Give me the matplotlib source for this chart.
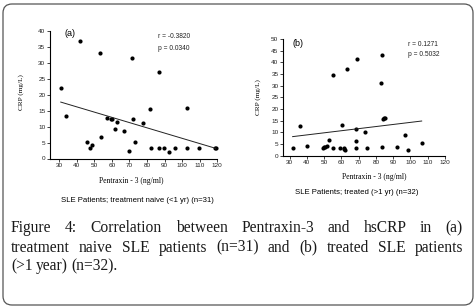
import matplotlib.pyplot as plt
from matplotlib.patches import FancyBboxPatch

W, H = 476, 308

# panel (a): treatment naive SLE patients (n=31)
ptx_a = [31, 34, 42, 46, 47.5, 49, 53.3, 54, 57.3, 59.5, 60.3, 62, 62.7, 66.7,
         70, 71.5, 72, 73, 78, 82, 82.3, 87, 87, 89.5, 92.5, 96, 102.7, 103,
         109.5, 118.5, 119]
crp_a = [22.1, 13.3, 37.0, 5.2, 3.2, 4.1, 33.1, 6.6, 12.8, 12.3, 12.3, 9.1, 11.3, 8.6,
         2.2, 31.4, 12.3, 5.1, 11.2, 15.6, 3.3, 27.1, 3.3, 3.3, 2.1, 3.3, 15.7, 3.3,
         3.3, 3.4, 3.3]
fit_a_x = [31, 119]
fit_a_y = [17.7, 3.2]

# panel (b): treated SLE patients (n=32)
ptx_b = [31.8, 35.9, 40.3, 49.2, 50.1, 50.5, 51.5, 53.0, 55.1, 55.3, 59.2, 60.5,
         61.5, 61.8, 62.3, 63.2, 68.3, 68.3, 68.6, 68.8, 73.8, 75, 82.7, 83.5,
         83.7, 84.2, 84.6, 85.2, 92.4, 96.6, 98.8, 106.8]
crp_b = [3.4, 12.7, 4.1, 3.4, 3.8, 3.6, 4.1, 6.7, 34.7, 3.4, 3.4, 13.2,
         3.2, 2.8, 2.4, 37.0, 11.2, 6.4, 3.4, 41.3, 10.3, 3.4, 31.2, 43.3,
         3.5, 15.8, 15.9, 15.9, 3.5, 8.7, 2.4, 5.2]
fit_b_x = [31.8, 106.5]
fit_b_y = [8.1, 14.8]

xticks = list(range(30, 121, 10))
yticks_a = list(range(0, 41, 5))
yticks_b = list(range(0, 51, 5))

SANS = ["Liberation Sans", "DejaVu Sans"]
SERIF = ["Liberation Serif", "DejaVu Serif"]

fig = plt.figure(figsize=(W / 100, H / 100), dpi=100)


def box(x0, y0, x1, y1):
    # pixel box (top-left origin) -> figure fraction rect
    return [x0 / W, 1 - y1 / H, (x1 - x0) / W, (y1 - y0) / H]


def panel(rect, x, y, fx, fy, xlim, ylim, yticks):
    ax = fig.add_axes(rect)
    ax.plot(x, y, "o", color="black", ms=3.0, mew=0, clip_on=False)
    ax.plot(fx, fy, color="#222222", lw=0.7)
    ax.set_xlim(*xlim)
    ax.set_ylim(*ylim)
    ax.set_xticks(xticks)
    ax.set_yticks(yticks)
    for s in ["top", "right"]:
        ax.spines[s].set_visible(False)
    for s in ["left", "bottom"]:
        ax.spines[s].set_linewidth(0.8)
    ax.tick_params(labelsize=4.6, length=2, width=0.6, pad=1.5, colors="#222222")
    for lab in ax.get_xticklabels() + ax.get_yticklabels():
        lab.set_family(SANS)
    ax.patch.set_alpha(0)
    return ax


ax_a = panel(box(50.2, 31, 217.3, 158.5), ptx_a, crp_a, fit_a_x, fit_a_y,
             (25, 120), (0, 40), yticks_a)
ax_b = panel(box(283.3, 39, 445, 155.5), ptx_b, crp_b, fit_b_x, fit_b_y,
             (26.4, 120), (0, 50), yticks_b)


def ftext(x, y, s, **kw):
    fig.text(x / W, 1 - y / H, s, **kw)


# panel (a) texts
ftext(70, 34, "(a)", fontsize=6.5, family=SANS, ha="center", va="center")
ftext(158, 36, "r = -0.3820", fontsize=4.8, family=SANS, va="center", color="#222222")
ftext(158, 48, "p = 0.0340", fontsize=4.8, family=SANS, va="center", color="#222222")
ftext(21, 92, "CRP (mg/L)", fontsize=5.2, family=SERIF, rotation=90, ha="center", va="center")
ftext(131, 181, "Pentraxin - 3 (ng/ml)", fontsize=5.5, family=SERIF, ha="center", va="center")
ftext(137, 200, "SLE Patients; treatment naive (<1 yr) (n=31)", fontsize=5.6,
      family=SANS, ha="center", va="center")

# panel (b) texts
ftext(298, 43, "(b)", fontsize=6.5, family=SANS, ha="center", va="center")
ftext(408, 44, "r = 0.1271", fontsize=4.8, family=SANS, va="center", color="#222222")
ftext(408, 55, "p = 0.5032", fontsize=4.8, family=SANS, va="center", color="#222222")
ftext(258, 97, "CRP (mg/L)", fontsize=5.2, family=SERIF, rotation=90, ha="center", va="center")
ftext(374, 177, "Pentraxin - 3 (ng/ml)", fontsize=5.5, family=SERIF, ha="center", va="center")
ftext(357, 193, "SLE Patients; treated (>1 yr) (n=32)", fontsize=5.6,
      family=SANS, ha="center", va="center")

# caption, justified between left and right edges
cap_lines = [
    ["Figure", "4:", "Correlation", "between", "Pentraxin-3", "and", "hsCRP", "in", "(a)"],
    ["treatment", "naive", "SLE", "patients", "(n=31)", "and", "(b)", "treated", "SLE", "patients"],
    ["(>1", "year)", "(n=32)."],
]
cap_base = [232, 251.5, 270.5]
left, right = 11, 463
renderer = fig.canvas.get_renderer()
for i, (words, yb) in enumerate(zip(cap_lines, cap_base)):
    texts = []
    for w in words:
        t = fig.text(0, 1 - yb / H, w, fontsize=11.2, family=SERIF, va="baseline",
                     color="#1a1a1a")
        texts.append(t)
    widths = [t.get_window_extent(renderer).width for t in texts]
    if i < len(cap_lines) - 1:
        gap = (right - left - sum(widths)) / (len(words) - 1)
    else:
        gap = 3.5
    x = left
    for t, wd in zip(texts, widths):
        t.set_x(x / W)
        x += wd + gap

frame = FancyBboxPatch((3 / 100, 3 / 100), 470 / 100, 301 / 100,
                       boxstyle="round,pad=0,rounding_size=0.09",
                       transform=fig.dpi_scale_trans, fill=False,
                       edgecolor="#555555", lw=0.9)
fig.patches.append(frame)

fig.savefig("out.png", dpi=100)
